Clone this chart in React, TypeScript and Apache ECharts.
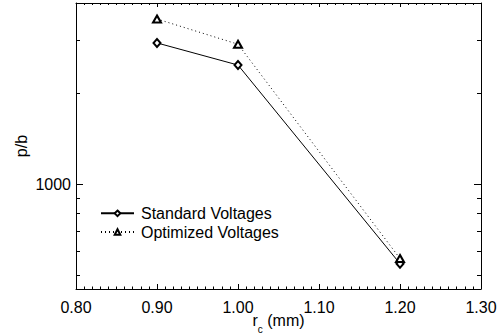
import React, { useEffect, useRef } from "react";
import * as echarts from "echarts";

const xValues = [0.9, 1.0, 1.2];
const standardVoltages = [2948, 2490, 546];
const optimizedVoltages = [3540, 2919, 568];
const seriesNames = ["Standard Voltages", "Optimized Voltages"];
const xTickLabels = ["0.80", "0.90", "1.00", "1.10", "1.20", "1.30"];
const yMajorTicks = [1000];
const yMinorTicks = [500, 600, 700, 800, 900, 2000, 3000];

const FONT = "Liberation Sans, Arial, Helvetica, sans-serif";

export default function App() {
  const ref = useRef<HTMLDivElement>(null);
  useEffect(() => {
    document.body.style.margin = "0";
    if (!ref.current) return;
    const chart = echarts.init(ref.current, undefined, { renderer: "svg" });
    const axisLine = { show: true, onZero: false, lineStyle: { color: "#000", width: 1 } };
    const xCommon = {
      type: "value",
      min: 0.8,
      max: 1.3,
      interval: 0.1,
      splitLine: { show: false },
      axisLine,
      minorTick: { show: true, splitNumber: 10, length: 2.5, lineStyle: { color: "#000" } },
    };
    const yCommon = {
      type: "log",
      logBase: 10,
      min: 450,
      max: 4000,
      splitLine: { show: false },
      minorSplitLine: { show: false },
    };
    const option = {
      animation: false,
      backgroundColor: "#fff",
      textStyle: { fontFamily: FONT },
      grid: { left: 76, right: 18, top: 3, bottom: 45, containLabel: false, outerBoundsMode: "none" },
      legend: {
        orient: "vertical",
        left: 100,
        top: 204,
        padding: 0,
        itemWidth: 33,
        itemHeight: 7,
        itemGap: 0,
        data: seriesNames,
        textStyle: { fontSize: 16, lineHeight: 18.7, color: "#000", fontFamily: FONT, padding: [0, 0, 0, 2] },
      },
      xAxis: [
        {
          ...xCommon,
          position: "bottom",
          axisTick: { show: true, inside: true, length: 5, lineStyle: { color: "#000" } },
          axisLabel: {
            show: true,
            margin: 10,
            fontSize: 16,
            color: "#000",
            fontFamily: FONT,
            formatter: (v: number) => {
              const idx = Math.round((v - 0.8) / 0.1);
              return xTickLabels[idx] ?? "";
            },
          },
          name: "{a|r}{b|c}{a| (mm)}",
          nameLocation: "middle",
          nameGap: 23,
          nameMoveOverlap: false,
          nameTextStyle: {
            color: "#000",
            rich: {
              a: { fontSize: 16, fontFamily: FONT, color: "#000", lineHeight: 24, verticalAlign: "top" },
              b: { fontSize: 10, fontFamily: FONT, color: "#000", lineHeight: 10, verticalAlign: "top", padding: [12, 0, 0, 0] },
            },
          },
        },
        {
          ...xCommon,
          position: "top",
          axisTick: { show: true, inside: true, length: 4, lineStyle: { color: "#000" } },
          minorTick: { show: true, splitNumber: 10, length: 2, lineStyle: { color: "#000" } },
          axisLabel: { show: false },
        },
      ],
      yAxis: [
        {
          ...yCommon,
          position: "left",
          axisLine,
          axisTick: { show: true, inside: true, length: 7, customValues: yMajorTicks, lineStyle: { color: "#000" } },
          axisLabel: {
            show: true,
            customValues: yMajorTicks,
            margin: 5,
            fontSize: 16,
            color: "#000",
            fontFamily: FONT,
            formatter: (v: number) => String(Math.round(v)),
          },
          name: "p/b",
          nameLocation: "middle",
          nameGap: 47,
          nameMoveOverlap: false,
          nameRotate: 90,
          nameTextStyle: { fontSize: 16, color: "#000", fontFamily: FONT },
        },
        {
          ...yCommon,
          position: "left",
          axisLine: { show: false },
          axisTick: { show: true, inside: true, length: 4, customValues: yMinorTicks, lineStyle: { color: "#000" } },
          axisLabel: { show: false },
        },
        {
          ...yCommon,
          position: "right",
          axisLine,
          axisTick: { show: true, inside: true, length: 7, customValues: yMajorTicks, lineStyle: { color: "#000" } },
          axisLabel: { show: false },
        },
        {
          ...yCommon,
          position: "right",
          axisLine: { show: false },
          axisTick: { show: true, inside: true, length: 4, customValues: yMinorTicks, lineStyle: { color: "#000" } },
          axisLabel: { show: false },
        },
      ],
      series: [
        {
          name: seriesNames[0],
          type: "line",
          xAxisIndex: 0,
          yAxisIndex: 0,
          data: xValues.map((x, i) => [x, standardVoltages[i]]),
          symbol: "emptyDiamond",
          symbolSize: [7, 8],
          lineStyle: { color: "#000", width: 1, type: "solid" },
          itemStyle: { color: "#000", borderColor: "#000", borderWidth: 1 },
        },
        {
          name: seriesNames[1],
          type: "line",
          xAxisIndex: 0,
          yAxisIndex: 0,
          data: xValues.map((x, i) => [x, optimizedVoltages[i]]),
          symbol: "emptyTriangle",
          symbolSize: [8, 7],
          lineStyle: { color: "#000", width: 1, type: [1, 3] },
          itemStyle: { color: "#000", borderColor: "#000", borderWidth: 1 },
        },
      ],
    };
    chart.setOption(option as any);
    return () => chart.dispose();
  }, []);
  return <div ref={ref} style={{ width: 499, height: 334 }} />;
}
